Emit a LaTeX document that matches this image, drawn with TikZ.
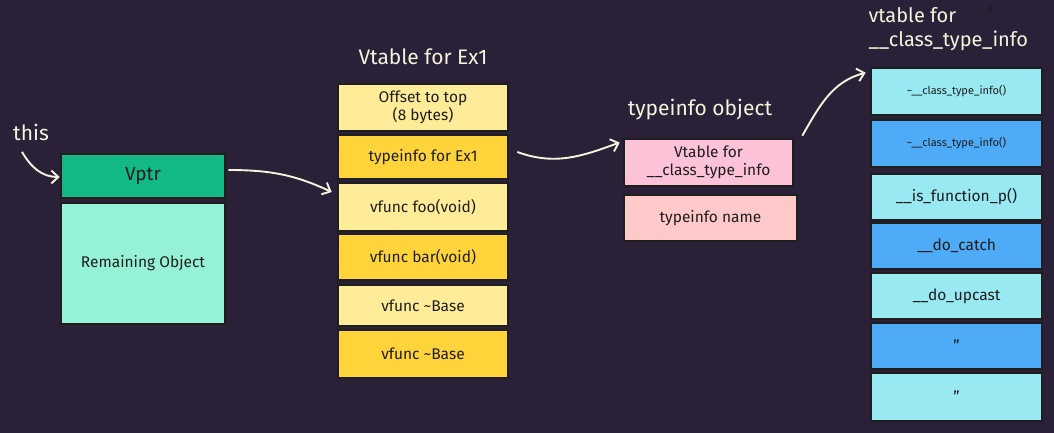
\documentclass[tikz,border=0pt]{standalone}
\usepackage{fontspec}
\setmainfont{Fira Sans}
\usetikzlibrary{arrows.meta}
\definecolor{bgdark}{HTML}{2A2139}
\definecolor{chalk}{HTML}{F6F2DC}
\definecolor{edge}{HTML}{1E1E1E}
\definecolor{vgreen}{HTML}{12B886}
\definecolor{vmint}{HTML}{96F2D7}
\definecolor{ylight}{HTML}{FFEC99}
\definecolor{ydark}{HTML}{FFD43B}
\definecolor{pinka}{HTML}{FCC2D7}
\definecolor{pinkb}{HTML}{FFC9C9}
\definecolor{blight}{HTML}{99E9F2}
\definecolor{bdark}{HTML}{4DABF7}
\begin{document}
\begin{tikzpicture}[x=1pt,y=-1pt,
  cell/.style={draw=edge,line width=2.6pt,minimum width=170pt,minimum height=46pt,
    text=edge,font=\fontsize{15.5}{18.5}\selectfont,align=center,inner sep=2pt},
  head/.style={text=chalk,font=\fontsize{21}{25}\selectfont},
  arr/.style={draw=chalk,line width=1.9pt,-{Straight Barb[length=7pt,width=13pt]}}]
\fill[bgdark] (0,0) rectangle (1054,433);
\useasboundingbox (0,0) rectangle (1054,433);
% object
\node[head] (this) at (31,132) {this};
\node[cell,fill=vgreen,minimum width=164pt,minimum height=44pt,font=\fontsize{19}{22}\selectfont] (vptr) at (143,176) {Vptr};
\node[cell,fill=vmint,minimum width=164pt,minimum height=121pt] (rest) at (143,263.5) {\raisebox{5pt}{Remaining Object}};
% vtable for Ex1
\node[head] (vthead) at (423,57) {Vtable for Ex1};
\node[cell,fill=ylight,minimum height=47pt] (off) at (423,107.5) {Offset to top\\(8 bytes)};
\node[cell,fill=ydark,minimum height=44pt] (tinfo) at (423,157) {typeinfo for Ex1};
\node[cell,fill=ylight,minimum height=48pt] (foo) at (423,207) {vfunc foo(void)};
\node[cell,fill=ydark] (bar) at (423,257) {vfunc bar(void)};
\node[cell,fill=ylight,minimum height=41pt] (baseA) at (423,305.5) {vfunc \textasciitilde Base};
\node[cell,fill=ydark,minimum height=48pt] (baseB) at (423,354) {vfunc \textasciitilde Base};
% typeinfo object
\node[head] (tihead) at (700,110) {typeinfo object};
\node[cell,fill=pinka,minimum width=169pt,minimum height=47pt] (vtfor) at (708.5,162.5) {Vtable for\\\_\_class\_type\_info};
\node[cell,fill=pinkb,minimum width=173pt] (tname) at (710.5,218) {typeinfo name};
% vtable for __class_type_info
\node[head,anchor=north west,align=left,font=\fontsize{20}{24}\selectfont] (cthead) at (865,4) {vtable for\\\_\_class\_type\_info};
\node[text=edge,font=\fontsize{14}{14}\selectfont] (mark) at (990,10) {a};
\node[cell,fill=blight,minimum width=171pt,minimum height=47pt,font=\fontsize{11}{13}\selectfont] (dtorA) at (956.5,91.5) {\textasciitilde\_\_class\_type\_info()};
\node[cell,fill=bdark,minimum width=171pt,minimum height=47pt,font=\fontsize{11}{13}\selectfont] (dtorB) at (956.5,143.5) {\textasciitilde\_\_class\_type\_info()};
\node[cell,fill=blight,minimum width=171pt] (isfn) at (956.5,197) {\_\_is\_function\_p()};
\node[cell,fill=bdark,minimum width=171pt] (catch) at (956.5,246) {\_\_do\_catch};
\node[cell,fill=blight,minimum width=171pt] (upcast) at (956.5,296) {\_\_do\_upcast};
\node[cell,fill=bdark,minimum width=171pt] (dittoA) at (956.5,346) {"};
\node[cell,fill=blight,minimum width=171pt,minimum height=48pt] (dittoB) at (956.5,397) {"};
% arrows
\draw[arr] ([xshift=-9pt,yshift=-8pt]this.south) to[out=-60,in=180] ([yshift=-1pt]vptr.west);
\draw[arr] ([xshift=2pt,yshift=6pt]vptr.east) to[out=0,in=155] ([xshift=-5pt,yshift=15pt]foo.west);
\draw[arr] ([xshift=8pt,yshift=5pt]tinfo.east) to[out=-20,in=200] ([xshift=-3pt,yshift=20pt]vtfor.west);
\draw[arr] ([xshift=8pt,yshift=2pt]vtfor.north east) to[out=60,in=195] ([xshift=-4pt,yshift=-6pt]dtorA.north west);
\end{tikzpicture}
\end{document}
